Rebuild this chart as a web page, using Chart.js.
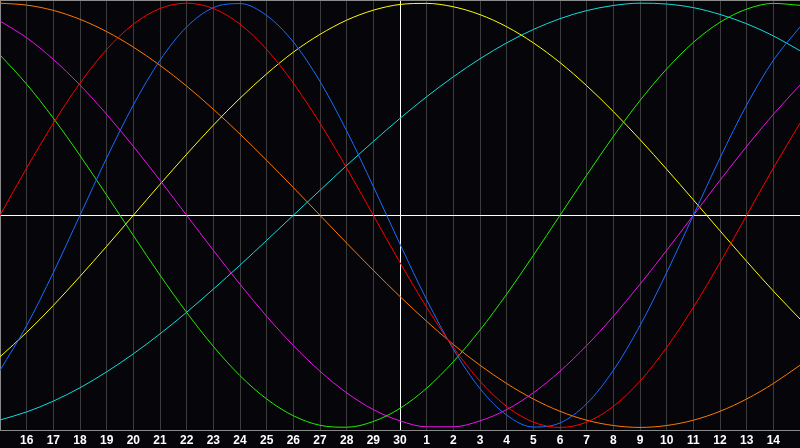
<!DOCTYPE html>
<html>
<head>
<meta charset="utf-8">
<script src="https://cdn.jsdelivr.net/npm/chart.js@4/dist/chart.umd.min.js"></script>
<style>
html, body { margin: 0; padding: 0; background: #060509; }
#wrap { width: 800px; height: 448px; }
</style>
</head>
<body>
<div id="wrap"><canvas id="bio"></canvas></div>
<script>
// day labels along the bottom, index 0..30 (first and last are blank)
let dayLabels = ['', '16', '17', '18', '19', '20', '21', '22', '23', '24', '25', '26', '27', '28', '29', '30',
    '1', '2', '3', '4', '5', '6', '7', '8', '9', '10', '11', '12', '13', '14', '']

// values, one per day
let red = [0, 0.223, 0.434, 0.623, 0.782, 0.901, 0.975, 1, 0.975, 0.901, 0.782, 0.623, 0.434, 0.223, 0, -0.223,
    -0.434, -0.623, -0.782, -0.901, -0.975, -1, -0.975, -0.901, -0.782, -0.623, -0.434, -0.223, 0, 0.223, 0.434]
let blue = [-0.731, -0.520, -0.270, 0, 0.270, 0.520, 0.731, 0.888, 0.979, 0.998, 0.942, 0.817, 0.631, 0.398, 0.136, -0.136,
    -0.398, -0.631, -0.817, -0.942, -0.998, -0.979, -0.888, -0.731, -0.520, -0.270, 0, 0.270, 0.520, 0.731, 0.888]
let green = [0.756, 0.618, 0.458, 0.282, 0.095, -0.095, -0.282, -0.458, -0.618, -0.756, -0.866, -0.945, -0.990, -0.999, -0.972, -0.910,
    -0.815, -0.690, -0.541, -0.372, -0.189, 0, 0.189, 0.372, 0.541, 0.690, 0.815, 0.910, 0.972, 0.999, 0.990]
let magenta = [0.916, 0.837, 0.735, 0.614, 0.476, 0.325, 0.165, 0, -0.165, -0.325, -0.476, -0.614, -0.735, -0.837, -0.916, -0.969,
    -0.997, -0.997, -0.969, -0.916, -0.837, -0.735, -0.614, -0.476, -0.325, -0.165, 0, 0.165, 0.325, 0.476, 0.614]
let yellow = [-0.667, -0.552, -0.425, -0.288, -0.146, 0, 0.146, 0.288, 0.425, 0.552, 0.667, 0.769, 0.853, 0.920, 0.967, 0.994,
    0.999, 0.983, 0.946, 0.889, 0.813, 0.720, 0.611, 0.489, 0.357, 0.217, 0.073, -0.073, -0.217, -0.357, -0.489]
let orange = [1, 0.991, 0.966, 0.924, 0.866, 0.793, 0.707, 0.609, 0.500, 0.383, 0.259, 0.131, 0, -0.131, -0.259, -0.383,
    -0.500, -0.609, -0.707, -0.793, -0.866, -0.924, -0.966, -0.991, -1, -0.991, -0.966, -0.924, -0.866, -0.793, -0.707]
let cyan = [-0.965, -0.927, -0.876, -0.813, -0.738, -0.653, -0.559, -0.457, -0.348, -0.235, -0.118, 0, 0.118, 0.235, 0.348, 0.457,
    0.559, 0.653, 0.738, 0.813, 0.876, 0.927, 0.965, 0.989, 1, 0.996, 0.979, 0.947, 0.903, 0.846, 0.776]

let series = [
    { name: 'red', values: red, color: '#ff0000' },
    { name: 'blue', values: blue, color: '#1a6cff' },
    { name: 'green', values: green, color: '#22ee00' },
    { name: 'magenta', values: magenta, color: '#ee11ee' },
    { name: 'yellow', values: yellow, color: '#ffff00' },
    { name: 'orange', values: orange, color: '#ff7a00' },
    { name: 'cyan', values: cyan, color: '#11dddd' }
]

const LAST = dayLabels.length - 1
const MID = 15
const TOP = 1.015

let datasets = series.map(function (s) {
    return {
        label: s.name,
        data: s.values.map(function (v, i) { return { x: i, y: v } }),
        borderColor: s.color,
        borderWidth: 1,
        pointRadius: 0,
        cubicInterpolationMode: 'monotone',
        fill: false
    }
})

new Chart(document.getElementById('bio'), {
    type: 'line',
    data: { datasets: datasets },
    options: {
        responsive: true,
        maintainAspectRatio: false,
        animation: false,
        layout: { padding: { left: 0, right: 0, top: 0, bottom: -3 } },
        plugins: { legend: { display: false }, tooltip: { enabled: false } },
        scales: {
            x: {
                type: 'linear',
                min: 0,
                max: LAST,
                afterBuildTicks: function (axis) {
                    axis.ticks = dayLabels.map(function (l, i) { return { value: i } })
                },
                // drop the few px chart.js keeps beside the end labels so the plot runs edge to edge
                afterFit: function (axis) {
                    axis.paddingLeft = 0
                    axis.paddingRight = 0
                },
                ticks: {
                    autoSkip: false,
                    maxRotation: 0,
                    padding: 3,
                    color: '#ffffff',
                    font: { family: 'Liberation Sans', size: 12, weight: 'bold' },
                    callback: function (v) { return dayLabels[v] }
                },
                grid: {
                    drawTicks: false,
                    color: function (ctx) {
                        if (ctx.tick && ctx.tick.value === MID) return '#ffffff'
                        if (ctx.tick && (ctx.tick.value === 0 || ctx.tick.value === LAST)) return '#8a8a8a'
                        return '#3c3c3c'
                    }
                },
                border: { display: true, color: '#8a8a8a' }
            },
            y: {
                min: -TOP,
                max: TOP,
                afterBuildTicks: function (axis) {
                    axis.ticks = [{ value: -TOP }, { value: 0 }, { value: TOP }]
                },
                ticks: { display: false },
                grid: {
                    drawTicks: false,
                    color: function (ctx) {
                        return ctx.tick && ctx.tick.value === 0 ? '#ffffff' : '#8a8a8a'
                    }
                },
                border: { display: true, color: '#8a8a8a' }
            }
        }
    }
})
</script>
</body>
</html>
